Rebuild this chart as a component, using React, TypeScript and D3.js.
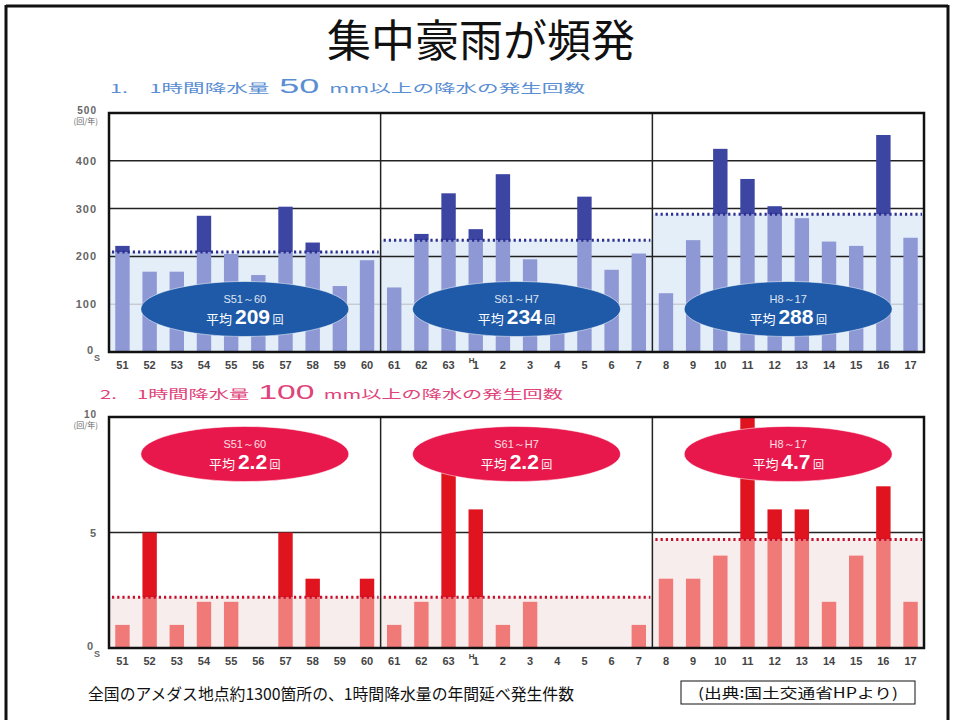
import * as d3 from "d3";

// x categories (Showa 51 .. Heisei 17)
const years = [
  "51", "52", "53", "54", "55", "56", "57", "58", "59", "60",
  "61", "62", "63", "H1", "2", "3", "4", "5", "6", "7",
  "8", "9", "10", "11", "12", "13", "14", "15", "16", "17",
];

// 1時間降水量50mm以上
const count50 = [
  222, 168, 168, 285, 205, 161, 304, 229, 138, 192,
  135, 247, 332, 257, 372, 194, 140, 325, 172, 206,
  123, 234, 425, 362, 305, 280, 231, 222, 454, 239,
];
// 1時間降水量100mm以上
const count100 = [
  1, 5, 1, 2, 2, 0, 5, 3, 0, 3,
  1, 2, 9, 6, 1, 2, 0, 0, 0, 1,
  3, 3, 4, 10, 6, 6, 2, 4, 7, 2,
];

const periods = ["S51～60", "S61～H7", "H8～17"];
const avg50 = [209, 234, 288];
const avg100 = [2.2, 2.2, 4.7];
const ticks50 = [100, 200, 300, 400, 500];
const ticks100 = [5, 10];

const JP = "'Noto Sans CJK JP', 'Noto Sans', sans-serif";
const NUM = "'Liberation Sans', Arial, sans-serif";

type PanelProps = {
  values: number[];
  avgs: number[];
  max: number;
  ticks: number[];
  top: number;
  bottom: number;
  light: string;
  dark: string;
  fill: string;
  dot: string;
  ellipse: string;
  ellipseY: number;
  unit: string;
};

const left = 109;
const right = 924;

const x = d3
  .scaleBand<string>()
  .domain(years)
  .range([left, right])
  .paddingInner(0.47)
  .paddingOuter(0.23);

// section boundaries (between 60|61 and 7|8)
const sectionEdges = [
  left,
  (x("60")! + x.bandwidth() + x("61")!) / 2,
  (x("7")! + x.bandwidth() + x("8")!) / 2,
  right,
];

function Panel(p: PanelProps) {
  const y = d3.scaleLinear().domain([0, p.max]).range([p.bottom, p.top]);
  const sectionOf = (i: number) => Math.floor(i / 10);

  return (
    <g>
      {/* light fill below each period average */}
      {p.avgs.map((a, s) => (
        <rect
          key={"f" + s}
          x={sectionEdges[s]}
          y={y(a)}
          width={sectionEdges[s + 1] - sectionEdges[s]}
          height={p.bottom - y(a)}
          fill={p.fill}
        />
      ))}
      {/* grid */}
      {p.ticks
        .filter((t) => t < p.max)
        .map((t) => (
          <line
            key={"g" + t}
            x1={left}
            x2={right}
            y1={y(t)}
            y2={y(t)}
            stroke={t === 100 ? "#b8bcc4" : "#222"}
            strokeWidth={t === 100 ? 1 : 1.5}
          />
        ))}
      {/* bars: light up to the average, dark above it */}
      {p.values.map((v, i) => {
        const a = p.avgs[sectionOf(i)];
        const low = Math.min(v, a);
        const bx = x(years[i])!;
        return (
          <g key={"b" + i}>
            {v > 0 && (
              <rect
                x={bx}
                y={y(low)}
                width={x.bandwidth()}
                height={p.bottom - y(low)}
                fill={p.light}
              />
            )}
            {v > a && (
              <rect
                x={bx}
                y={y(v)}
                width={x.bandwidth()}
                height={y(a) - y(v)}
                fill={p.dark}
              />
            )}
          </g>
        );
      })}
      {/* average dotted lines */}
      {p.avgs.map((a, s) => (
        <line
          key={"a" + s}
          x1={sectionEdges[s] + 3}
          x2={sectionEdges[s + 1] - 2}
          y1={y(a)}
          y2={y(a)}
          stroke={p.dot}
          strokeWidth={3}
          strokeDasharray="2.2,3"
        />
      ))}
      {/* section dividers */}
      {sectionEdges.slice(1, 3).map((ex, k) => (
        <line key={"d" + k} x1={ex} x2={ex} y1={p.top} y2={p.bottom} stroke="#222" strokeWidth={1.5} />
      ))}
      {/* frame */}
      <rect
        x={left}
        y={p.top}
        width={right - left}
        height={p.bottom - p.top}
        fill="none"
        stroke="#111"
        strokeWidth={2.5}
      />
      {/* ellipses */}
      {periods.map((per, s) => {
        const cx = (sectionEdges[s] + sectionEdges[s + 1]) / 2;
        const cy = p.ellipseY;
        return (
          <g key={"e" + s}>
            <ellipse cx={cx} cy={cy} rx={104} ry={27.5} fill={p.ellipse} stroke="#fff" strokeOpacity={0.5} />
            <text x={cx} y={cy - 6} textAnchor="middle" fill="#fff" fontFamily={NUM} fontSize={11} opacity={0.85}>
              {per}
            </text>
            <text x={cx} y={cy + 15} textAnchor="middle" fill="#fff" fontFamily={JP}>
              <tspan fontSize={13}>平均 </tspan>
              <tspan fontSize={21} fontWeight="bold" fontFamily={NUM}>
                {String(p.avgs[s])}
              </tspan>
              <tspan fontSize={11}> 回</tspan>
            </text>
          </g>
        );
      })}
      {/* y tick labels */}
      {p.ticks.map((t) => (
        <text
          key={"yt" + t}
          x={97}
          y={t === p.max ? y(t) + 1 : y(t) + 4}
          textAnchor="end"
          fontFamily={NUM}
          fontSize={t === p.max ? 10 : 11}
          fontWeight="bold"
          fill="#666"
          letterSpacing={1}
        >
          {t}
        </text>
      ))}
      <text x={98} y={p.top + 11} textAnchor="end" fontFamily={JP} fontSize={8} fill="#666">
        {p.unit}
      </text>
      <text x={93} y={p.bottom + 2} textAnchor="end" fontFamily={NUM} fontSize={11} fontWeight="bold" fill="#666">
        0
      </text>
      <text x={94} y={p.bottom + 9} fontFamily={NUM} fontSize={9} fontWeight="bold" fill="#666">
        S
      </text>
      {/* x tick labels */}
      {years.map((yr) => {
        const cx = x(yr)! + x.bandwidth() / 2;
        if (yr === "H1") {
          return (
            <g key={"xt" + yr}>
              <text x={cx - 7} y={p.bottom + 11} fontFamily={NUM} fontSize={8} fontWeight="bold" fill="#444">
                H
              </text>
              <text x={cx} y={p.bottom + 17} textAnchor="middle" fontFamily={NUM} fontSize={11} fontWeight="bold" fill="#444">
                1
              </text>
            </g>
          );
        }
        return (
          <text
            key={"xt" + yr}
            x={cx}
            y={p.bottom + 17}
            textAnchor="middle"
            fontFamily={NUM}
            fontSize={11}
            fontWeight="bold"
            fill="#444"
          >
            {yr}
          </text>
        );
      })}
    </g>
  );
}

export default function App() {
  return (
    <svg
      width={955}
      height={720}
      style={{ display: "block", position: "absolute", left: 0, top: 0 }}
    >
      <rect width={955} height={720} fill="#fff" />
      <line x1={6} x2={6} y1={5} y2={720} stroke="#111" strokeWidth={3} />
      <line x1={6} x2={948} y1={6} y2={6} stroke="#111" strokeWidth={3} />
      <line x1={948} x2={948} y1={5} y2={720} stroke="#111" strokeWidth={3} />
      <text x={481} y={57} textAnchor="middle" fontFamily={JP} fontSize={44} fill="#111">
        集中豪雨が頻発
      </text>

      <text x={110} y={93} fontFamily={JP} fontSize={12} fill="#5a8ed2" textLength={475} lengthAdjust="spacingAndGlyphs">
        1.　1時間降水量
        <tspan fontFamily={NUM} fontSize={20}> 50 </tspan>
        mm以上の降水の発生回数
      </text>
      <Panel
        values={count50}
        avgs={avg50}
        max={500}
        ticks={ticks50}
        top={113}
        bottom={352}
        light="#8e98d4"
        dark="#3d45a2"
        fill="#e4eef8"
        dot="#2b3090"
        ellipse="#1e5aa8"
        ellipseY={309}
        unit="(回/年)"
      />

      <text x={100} y={399} fontFamily={JP} fontSize={12} fill="#e0437a" textLength={463} lengthAdjust="spacingAndGlyphs">
        2.　1時間降水量
        <tspan fontFamily={NUM} fontSize={20}> 100 </tspan>
        mm以上の降水の発生回数
      </text>
      <Panel
        values={count100}
        avgs={avg100}
        max={10}
        ticks={ticks100}
        top={417}
        bottom={648}
        light="#f07a78"
        dark="#e0141e"
        fill="#f8eded"
        dot="#c4102c"
        ellipse="#e8184c"
        ellipseY={454}
        unit="(回/年)"
      />

      <text x={88} y={700} fontFamily={JP} fontSize={16} fill="#111" textLength={486} lengthAdjust="spacingAndGlyphs">
        全国のアメダス地点約1300箇所の、1時間降水量の年間延べ発生件数
      </text>
      <rect x={681} y={681} width={234} height={23} fill="#fff" stroke="#111" strokeWidth={1} />
      <text x={798} y={698} textAnchor="middle" fontFamily={JP} fontSize={14} fill="#111" textLength={200} lengthAdjust="spacingAndGlyphs">
        (出典:国土交通省HPより)
      </text>
    </svg>
  );
}
